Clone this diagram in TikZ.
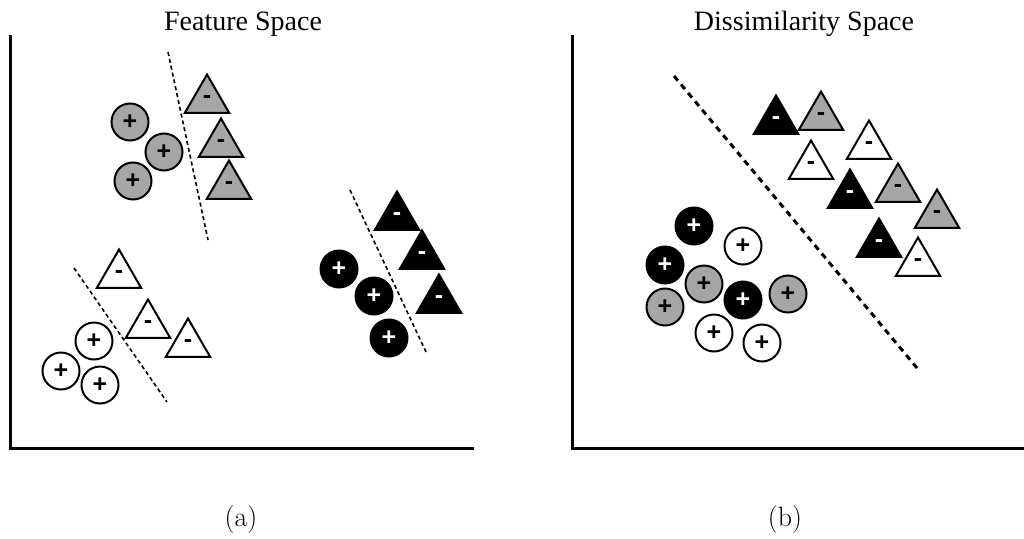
\documentclass[tikz,border=0pt]{standalone}
\usepackage{fontspec}
\newfontfamily\titlefont{Liberation Serif}
\newfontfamily\markfont{Liberation Sans}
\usepackage{xcolor}
\usetikzlibrary{shapes.geometric}

\definecolor{midgray}{RGB}{166,166,166}

\begin{document}
\begin{tikzpicture}[x=1pt, y=-1pt,
  sample/.style={draw, line width=2pt, inner sep=0pt, font=\markfont\bfseries\fontsize{25}{25}\selectfont},
  poscirc/.style={sample, circle, minimum size=37pt},
  negtri/.style={sample, regular polygon, regular polygon sides=3, minimum size=51pt},
  wf/.style={fill=white},
  gf/.style={fill=midgray},
  bf/.style={fill=black, text=white},
  axis/.style={line width=3pt, line join=miter},
  thinsep/.style={line width=1.6pt, dash pattern=on 4pt off 3pt},
  thicksep/.style={line width=3pt, dash pattern=on 6pt off 5pt},
  title/.style={font=\titlefont\fontsize{28}{30}\selectfont},
  caplabel/.style={font=\fontsize{28}{32}\selectfont}
]
\useasboundingbox (0,0) rectangle (1024,538);

% (a) feature space
\node[title] (ftitle) at (243,24) {Feature Space};
\coordinate (ay) at (10,35);
\coordinate (ao) at (10,448);
\coordinate (ax) at (474,448);
\draw[axis] (ay) -- (ao) -- (ax);

% gray class
\node[poscirc, gf] (ag1) at (130,122) {+};
\node[poscirc, gf] (ag2) at (164,152) {+};
\node[poscirc, gf] (ag3) at (133,181) {+};
\node[negtri, gf] (agn1) at (207,100) {-};
\node[negtri, gf] (agn2) at (221,144) {-};
\node[negtri, gf] (agn3) at (229,186) {-};
\coordinate (as1) at (168,52);
\coordinate (as2) at (208,240);
\draw[thinsep] (as1) -- (as2);

% black class
\node[poscirc, bf] (ab1) at (339,269) {+};
\node[poscirc, bf] (ab2) at (374,296) {+};
\node[poscirc, bf] (ab3) at (389,338) {+};
\node[negtri, bf] (abn1) at (397,217) {-};
\node[negtri, bf] (abn2) at (422,256) {-};
\node[negtri, bf] (abn3) at (439,300) {-};
\coordinate (as3) at (350,190);
\coordinate (as4) at (426,352);
\draw[thinsep] (as3) -- (as4);

% white class
\node[poscirc, wf] (aw1) at (94,341) {+};
\node[poscirc, wf] (aw2) at (61,371) {+};
\node[poscirc, wf] (aw3) at (100,385) {+};
\node[negtri, wf] (awn1) at (119,275) {-};
\node[negtri, wf] (awn2) at (148,325) {-};
\node[negtri, wf] (awn3) at (188,344) {-};
\coordinate (as5) at (74,268);
\coordinate (as6) at (167,402);
\draw[thinsep] (as5) -- (as6);

\node[caplabel] (alabel) at (241,520) {(a)};

% (b) dissimilarity space
\node[title] (dtitle) at (804,24) {Dissimilarity Space};
\coordinate (by) at (572,35);
\coordinate (bo) at (572,448);
\coordinate (bx) at (1024,448);
\draw[axis] (by) -- (bo) -- (bx);

\node[negtri, bf] (bn1) at (776,121) {-};
\node[negtri, gf] (bn2) at (821,117) {-};
\node[negtri, wf] (bn3) at (869,146) {-};
\node[negtri, wf] (bn4) at (811,166) {-};
\node[negtri, bf] (bn5) at (850,195) {-};
\node[negtri, gf] (bn6) at (898,189) {-};
\node[negtri, gf] (bn7) at (937,215) {-};
\node[negtri, bf] (bn8) at (879,244) {-};
\node[negtri, wf] (bn9) at (918,263) {-};

\node[poscirc, bf] (bp1) at (694,226) {+};
\node[poscirc, wf] (bp2) at (743,246) {+};
\node[poscirc, bf] (bp3) at (665,265) {+};
\node[poscirc, gf] (bp4) at (704,284) {+};
\node[poscirc, gf] (bp5) at (665,307) {+};
\node[poscirc, bf] (bp6) at (743,300) {+};
\node[poscirc, gf] (bp7) at (788,294) {+};
\node[poscirc, wf] (bp8) at (714,333) {+};
\node[poscirc, wf] (bp9) at (762,343) {+};

\coordinate (bs1) at (674,76);
\coordinate (bs2) at (917,368);
\draw[thicksep] (bs1) -- (bs2);

\node[caplabel] (blabel) at (785,520) {(b)};
\end{tikzpicture}
\end{document}
